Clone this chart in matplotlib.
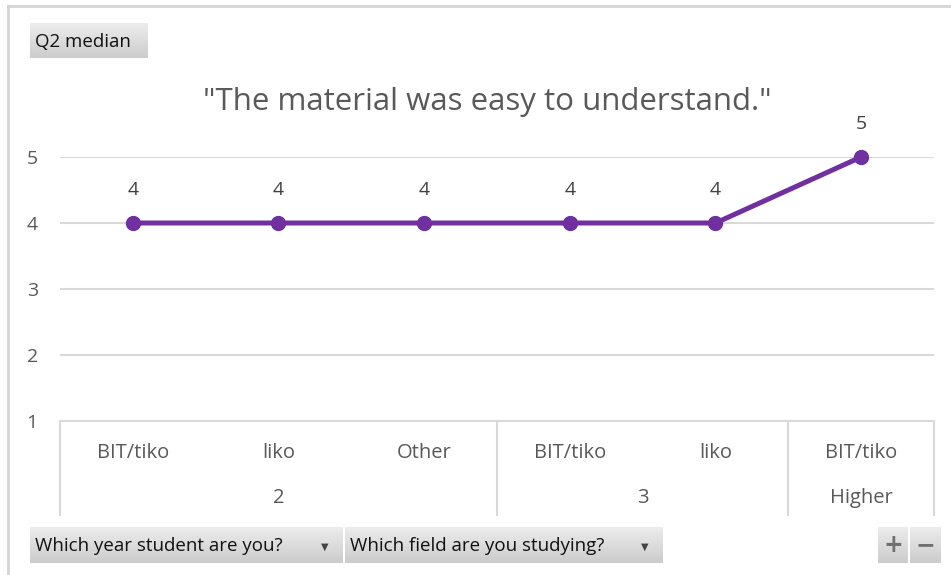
import numpy as np
import matplotlib.pyplot as plt
from matplotlib.lines import Line2D

# data
fields = ["BIT/tiko", "liko", "Other", "BIT/tiko", "liko", "BIT/tiko"]
years = ["2", "3", "Higher"]
year_sizes = [3, 2, 1]
medians = [4, 4, 4, 4, 4, 5]

W, H = 951, 575
FONT = "Open Sans"
GRID = "#d9d9d9"


def fx(px):
    return px / W


def fy(py):
    return 1 - py / H


def button(fig, x0, y0, x1, y1, text, arrow=False, ha="left"):
    bax = fig.add_axes([fx(x0), fy(y1), fx(x1) - fx(x0), fy(y0) - fy(y1)])
    grad = np.linspace(0.93, 0.80, 50).reshape(-1, 1)
    bax.imshow(np.dstack([grad, grad, grad]), aspect="auto", extent=[0, 1, 0, 1])
    bax.set_xlim(0, 1)
    bax.set_ylim(0, 1)
    bax.axis("off")
    if ha == "left":
        bax.text(5 / (x1 - x0), 0.47, text, ha="left", va="center",
                 fontsize=13.5, family=FONT, color="#111111")
    else:
        bax.text(0.5, 0.5, text, ha="center", va="center", fontsize=17,
                 fontweight="bold", family="DejaVu Sans", color="#707070")
    if arrow:
        bax.text(1 - 18 / (x1 - x0), 0.45, "\u25BC", ha="center", va="center",
                 fontsize=7, family="DejaVu Sans", color="#444444")


fig = plt.figure(figsize=(W / 100, H / 100), dpi=100)

# outer frame (top and left edges only)
fig.lines.append(Line2D([fx(8), 1], [fy(6), fy(6)], transform=fig.transFigure,
                        color="#d4d4d4", linewidth=2))
fig.lines.append(Line2D([fx(8), fx(8)], [fy(6), 0], transform=fig.transFigure,
                        color="#d4d4d4", linewidth=2))

ax = fig.add_axes([fx(60), fy(421), fx(874), fy(157) - fy(421)])
x = np.arange(len(fields))
ax.plot(x, medians, color="#7030A0", linewidth=3.6, marker="o",
        markersize=10, clip_on=False, zorder=3)
for xi, v in zip(x, medians):
    ax.annotate(str(v), (xi, v), xytext=(0, 23.5), textcoords="offset points",
                ha="center", va="center", fontsize=14, family=FONT,
                color="#404040")

ax.set_xlim(-0.5, len(fields) - 0.5)
ax.set_ylim(1, 5)
ax.set_yticks([1, 2, 3, 4, 5])
ax.set_xticks([])
ax.tick_params(axis="y", length=0, pad=16, labelsize=14, labelcolor="#595959")
for lab in ax.get_yticklabels():
    lab.set_family(FONT)
ax.grid(axis="y", color=GRID, linewidth=1.5)
ax.set_axisbelow(True)
for s in ax.spines.values():
    s.set_visible(False)

# category table below the axis
tr = ax.get_xaxis_transform()
low = -94 / 264
ax.plot([-0.5, len(fields) - 0.5], [0, 0], transform=tr, color=GRID,
        linewidth=1.5, clip_on=False)
for xi, name in zip(x, fields):
    ax.text(xi, -32 / 264, name, transform=tr, ha="center", va="center",
            fontsize=14.5, family=FONT, color="#595959")
start = 0
edges = [-0.5]
for name, n in zip(years, year_sizes):
    ax.text(start + (n - 1) / 2, -77 / 264, name, transform=tr, ha="center",
            va="center", fontsize=14.5, family=FONT, color="#595959")
    start += n
    edges.append(start - 0.5)
for e in edges:
    ax.plot([e, e], [0, low], transform=tr, color=GRID, linewidth=1.5,
            clip_on=False)

fig.text(fx(487), fy(102), '"The material was easy to understand."',
         ha="center", va="center", fontsize=22.5, family=FONT, color="#595959")

button(fig, 30, 23, 148, 58, "Q2 median")
button(fig, 30, 527, 343, 563, "Which year student are you?", arrow=True)
button(fig, 345, 527, 663, 563, "Which field are you studying?", arrow=True)
button(fig, 878, 527, 908, 563, "+", ha="center")
button(fig, 910, 527, 941, 563, "\u2212", ha="center")

fig.savefig("out.png", dpi=100)
